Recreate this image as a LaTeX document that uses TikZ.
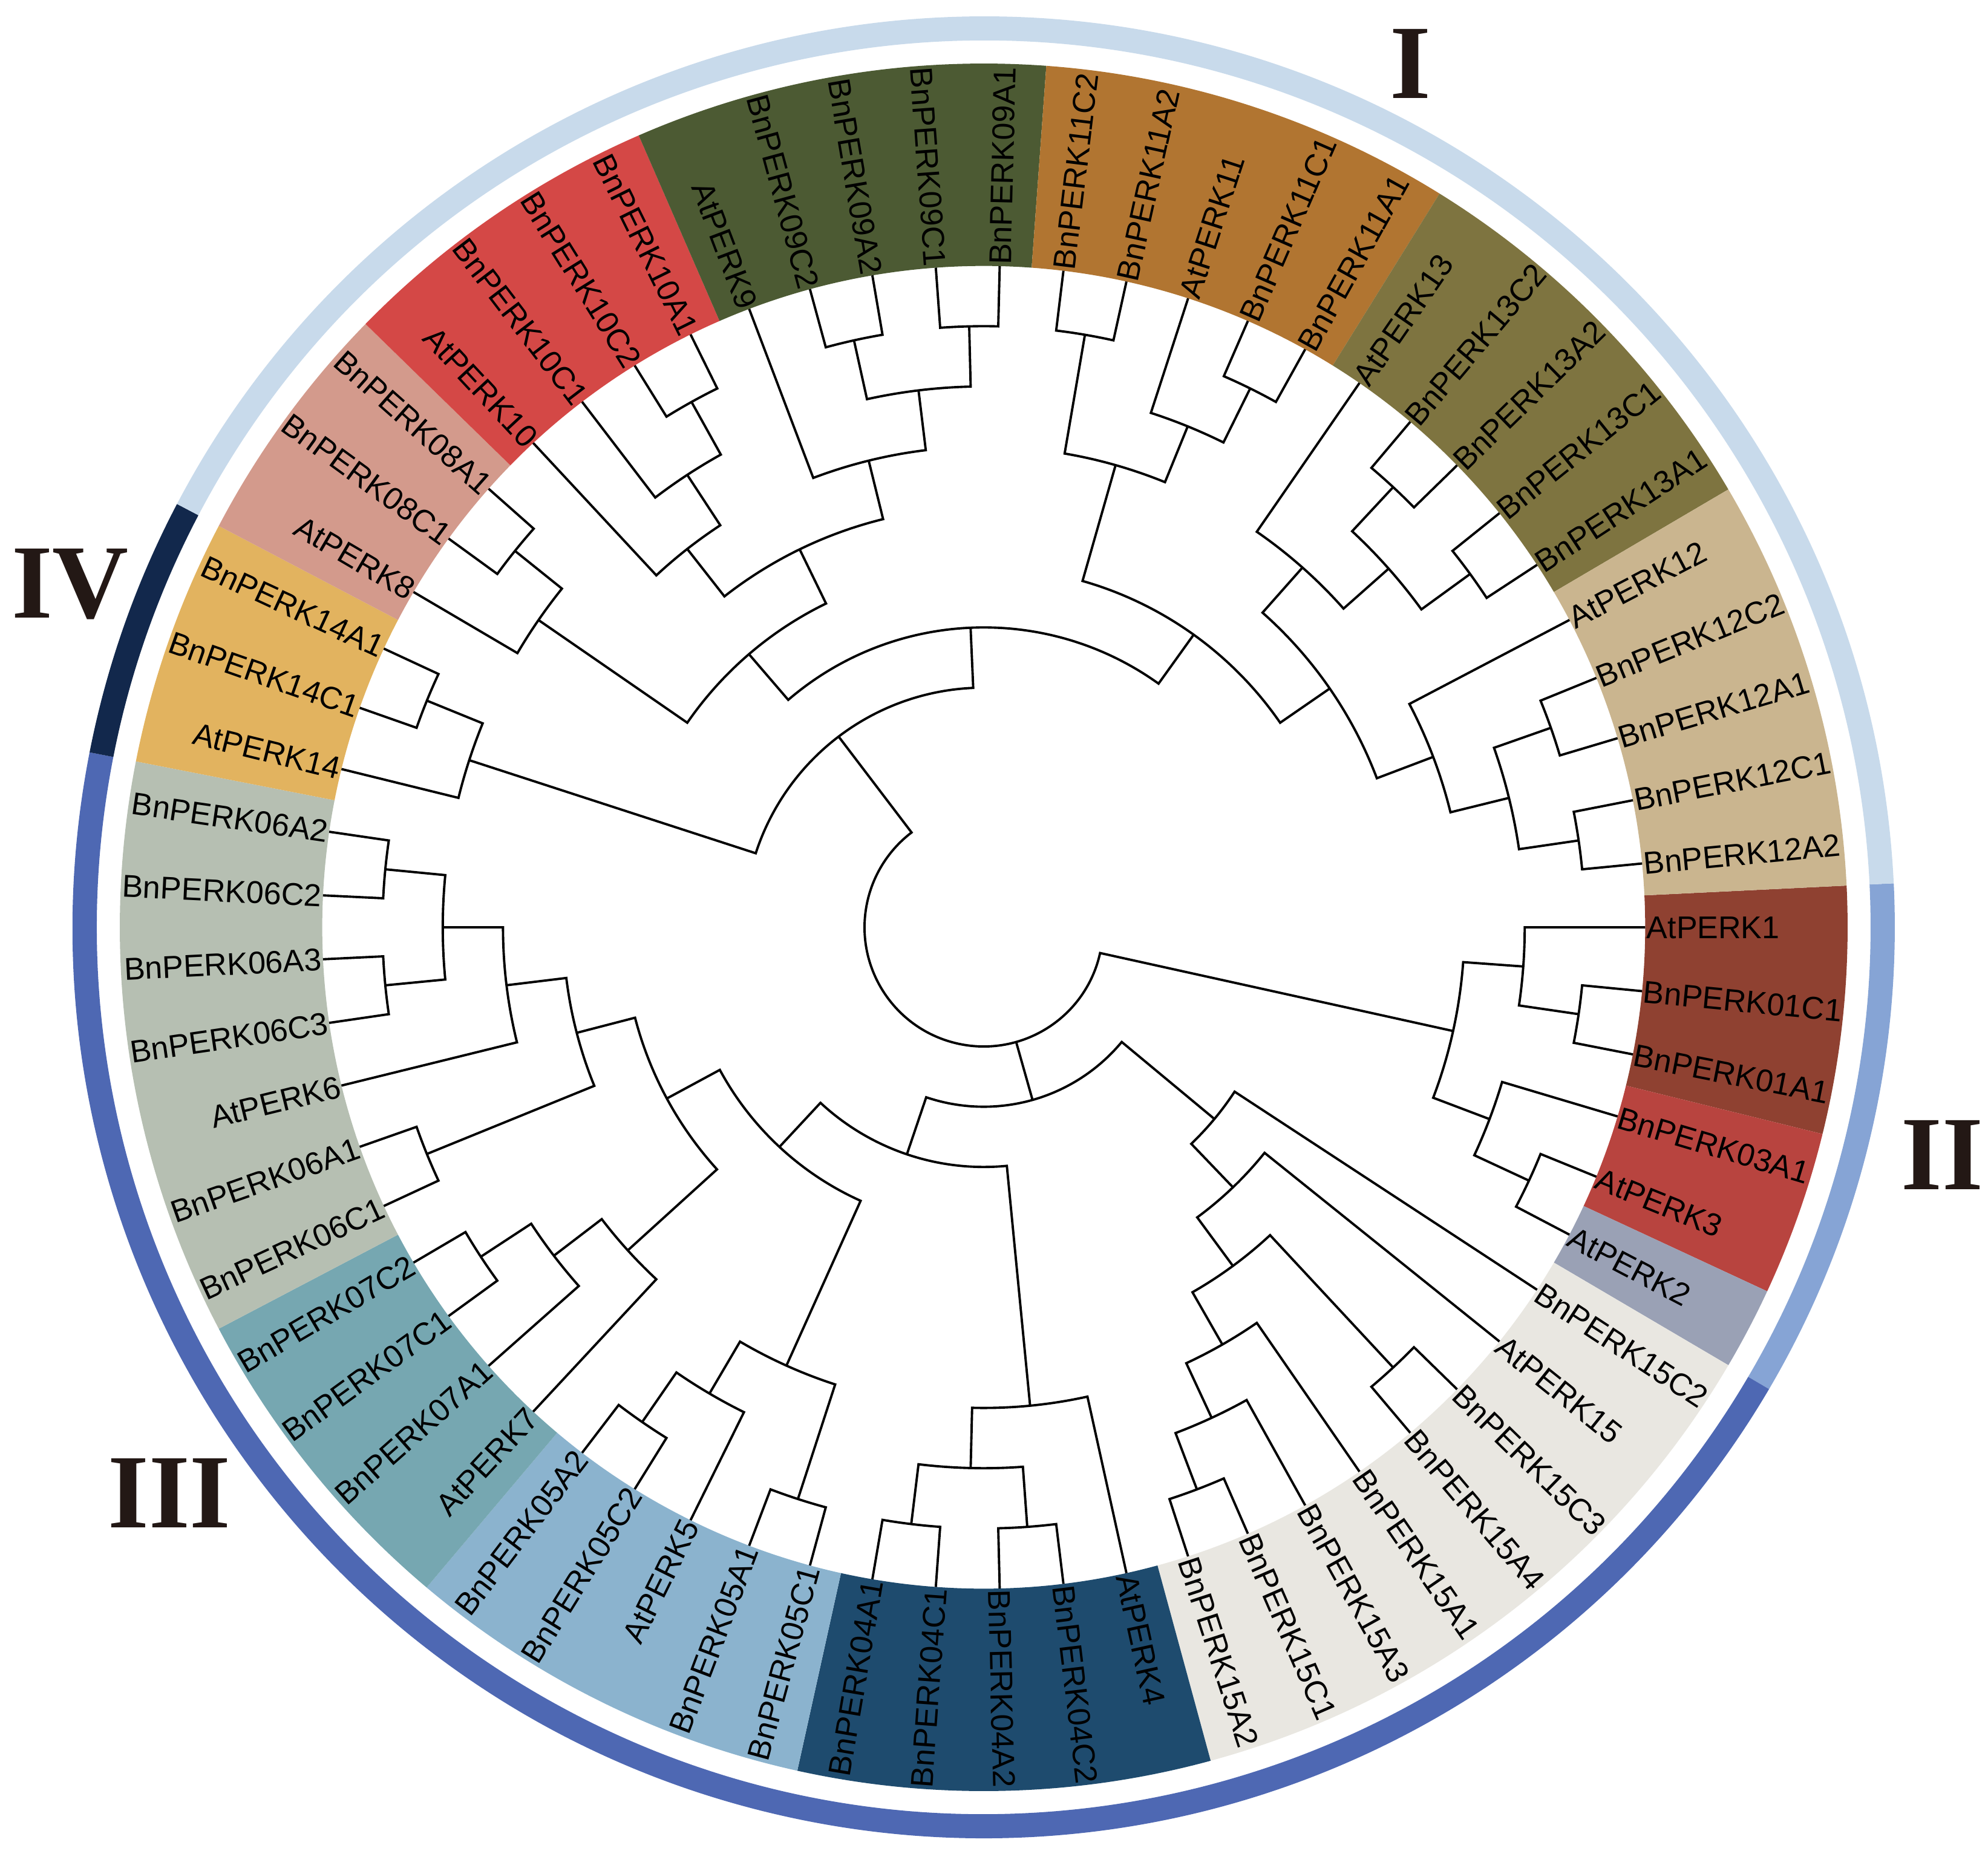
\documentclass[tikz,border=0pt]{standalone}
\usepackage{fontspec}
\setmainfont{Liberation Sans}
\newfontfamily\numfont{Liberation Serif}
\usepackage{xcolor}

%Band colours
\definecolor{bnd01}{HTML}{8F4131}
\definecolor{bnd03}{HTML}{B8443F}
\definecolor{bnd02}{HTML}{9AA1B5}
\definecolor{bnd15}{HTML}{E9E7E1}
\definecolor{bnd04}{HTML}{1E4B6E}
\definecolor{bnd05}{HTML}{8BB3CE}
\definecolor{bnd07}{HTML}{76A7B1}
\definecolor{bnd06}{HTML}{B6BFB2}
\definecolor{bnd14}{HTML}{E2B35F}
\definecolor{bnd08}{HTML}{D39A8C}
\definecolor{bnd10}{HTML}{D44846}
\definecolor{bnd09}{HTML}{4C5A33}
\definecolor{bnd11}{HTML}{B17531}
\definecolor{bnd13}{HTML}{7E7440}
\definecolor{bnd12}{HTML}{CAB58F}
%Group ring colours
\definecolor{grpI}{HTML}{C8DAEB}
\definecolor{grpII}{HTML}{86A4D5}
\definecolor{grpIII}{HTML}{4E68B3}
\definecolor{grpIV}{HTML}{12284C}
\definecolor{numcol}{HTML}{231815}

\tikzset{
  branch/.style={line width=1.1pt, black},
  leaflabel/.style={font=\fontsize{14.8}{16}\selectfont, inner sep=0.5pt, text height=10.6pt, text depth=0pt},
  numeral/.style={font=\numfont\bfseries\fontsize{49.6}{52}\selectfont, text=numcol, inner sep=0pt}
}

\def\dAng{5.538462}
\def\rZero{1.97}
\def\rStep{0.996}
\def\rLeaf{10.934}
\def\rBand{14.28}
\def\rRingIn{14.66}
\def\rRingOut{15.06}

% clade: name, level, child one, child two
\newcommand{\clade}[4]{%
  \pgfmathsetmacro\radN{\rZero+#2*\rStep}%
  \edef\angA{\csname pa@#3\endcsname}%
  \edef\angB{\csname pa@#4\endcsname}%
  \pgfmathsetmacro\angM{(\angA+\angB)/2}%
  \expandafter\xdef\csname pa@#1\endcsname{\angM}%
  \coordinate (#1) at (\angM:\radN);%
  \draw[branch] (#3) -- (\angA:\radN) arc[start angle=\angA, end angle=\angB, radius=\radN] -- (#4);%
}
% sector: colour, first leaf, last leaf, inner radius, outer radius
\newcommand{\sector}[5]{%
  \pgfmathsetmacro\bA{-(#2-0.5)*\dAng}%
  \pgfmathsetmacro\bB{-(#3+0.5)*\dAng}%
  \fill[#1] (\bA:#4) arc[start angle=\bA, end angle=\bB, radius=#4] -- (\bB:#5) arc[start angle=\bB, end angle=\bA, radius=#5] -- cycle;%
}

\begin{document}
\begin{tikzpicture}
  \useasboundingbox (-16.26,-15.31) rectangle (16.60,15.33);

  %Bands
  \sector{bnd01}{0}{2}{\rLeaf}{\rBand}
  \sector{bnd03}{3}{4}{\rLeaf}{\rBand}
  \sector{bnd02}{5}{5}{\rLeaf}{\rBand}
  \sector{bnd15}{6}{13}{\rLeaf}{\rBand}
  \sector{bnd04}{14}{18}{\rLeaf}{\rBand}
  \sector{bnd05}{19}{23}{\rLeaf}{\rBand}
  \sector{bnd07}{24}{27}{\rLeaf}{\rBand}
  \sector{bnd06}{28}{34}{\rLeaf}{\rBand}
  \sector{bnd14}{35}{37}{\rLeaf}{\rBand}
  \sector{bnd08}{38}{40}{\rLeaf}{\rBand}
  \sector{bnd10}{41}{44}{\rLeaf}{\rBand}
  \sector{bnd09}{45}{49}{\rLeaf}{\rBand}
  \sector{bnd11}{50}{54}{\rLeaf}{\rBand}
  \sector{bnd13}{55}{59}{\rLeaf}{\rBand}
  \sector{bnd12}{60}{64}{\rLeaf}{\rBand}

  %Group ring
  \sector{grpII}{0}{5}{\rRingIn}{\rRingOut}
  \sector{grpIII}{6}{34}{\rRingIn}{\rRingOut}
  \sector{grpIV}{35}{37}{\rRingIn}{\rRingOut}
  \sector{grpI}{38}{64}{\rRingIn}{\rRingOut}

  %Leaves
  \foreach \nm [count=\p from 0] in {AtPERK1,BnPERK01C1,BnPERK01A1,BnPERK03A1,AtPERK3,AtPERK2,
      BnPERK15C2,AtPERK15,BnPERK15C3,BnPERK15A4,BnPERK15A1,BnPERK15A3,BnPERK15C1,BnPERK15A2,
      AtPERK4,BnPERK04C2,BnPERK04A2,BnPERK04C1,BnPERK04A1,
      BnPERK05C1,BnPERK05A1,AtPERK5,BnPERK05C2,BnPERK05A2,
      AtPERK7,BnPERK07A1,BnPERK07C1,BnPERK07C2,
      BnPERK06C1,BnPERK06A1,AtPERK6,BnPERK06C3,BnPERK06A3,BnPERK06C2,BnPERK06A2,
      AtPERK14,BnPERK14C1,BnPERK14A1,AtPERK8,BnPERK08C1,BnPERK08A1,
      AtPERK10,BnPERK10C1,BnPERK10C2,BnPERK10A1,
      AtPERK9,BnPERK09C2,BnPERK09A2,BnPERK09C1,BnPERK09A1,
      BnPERK11C2,BnPERK11A2,AtPERK11,BnPERK11C1,BnPERK11A1,
      AtPERK13,BnPERK13C2,BnPERK13A2,BnPERK13C1,BnPERK13A1,
      AtPERK12,BnPERK12C2,BnPERK12A1,BnPERK12C1,BnPERK12A2}{
    \pgfmathsetmacro\angL{-\p*\dAng}
    \expandafter\xdef\csname pa@\nm\endcsname{\angL}
    \coordinate (\nm) at (\angL:\rLeaf);
    \pgfmathtruncatemacro\isR{cos(\angL)>0}
    \ifnum\isR=1
      \node[leaflabel, anchor=west, rotate=\angL] (t-\nm) at (\nm) {\nm};
    \else
      \pgfmathsetmacro\angT{\angL+180}
      \node[leaflabel, anchor=east, rotate=\angT] (t-\nm) at (\nm) {\nm};
    \fi
  }

  %Group II
  \clade{c0102}{8}{BnPERK01C1}{BnPERK01A1}
  \clade{c01}{7}{AtPERK1}{c0102}
  \clade{c0302}{8}{AtPERK3}{AtPERK2}
  \clade{c03}{7}{BnPERK03A1}{c0302}
  \clade{cII}{6}{c01}{c03}

  %Clade 15
  \clade{c15a}{8}{BnPERK15C1}{BnPERK15A2}
  \clade{c15b}{7}{BnPERK15A3}{c15a}
  \clade{c15c}{6}{BnPERK15A1}{c15b}
  \clade{c15d}{8}{BnPERK15C3}{BnPERK15A4}
  \clade{c15e}{5}{c15d}{c15c}
  \clade{c15f}{4}{AtPERK15}{c15e}
  \clade{c15}{3}{BnPERK15C2}{c15f}

  %Clade 4
  \clade{c04a}{8}{BnPERK04C2}{BnPERK04A2}
  \clade{c04b}{8}{BnPERK04C1}{BnPERK04A1}
  \clade{c04c}{7}{c04a}{c04b}
  \clade{c04}{6}{AtPERK4}{c04c}

  %Clade 5
  \clade{c05a}{8}{BnPERK05C1}{BnPERK05A1}
  \clade{c05b}{8}{BnPERK05C2}{BnPERK05A2}
  \clade{c05c}{7}{AtPERK5}{c05b}
  \clade{c05}{6}{c05a}{c05c}

  %Clade 7
  \clade{c07a}{8}{BnPERK07C1}{BnPERK07C2}
  \clade{c07b}{7}{BnPERK07A1}{c07a}
  \clade{c07}{6}{AtPERK7}{c07b}

  %Clade 6
  \clade{c06a}{8}{BnPERK06C1}{BnPERK06A1}
  \clade{c06b}{8}{BnPERK06C3}{BnPERK06A3}
  \clade{c06c}{8}{BnPERK06C2}{BnPERK06A2}
  \clade{c06d}{7}{c06b}{c06c}
  \clade{c06e}{6}{AtPERK6}{c06d}
  \clade{c06}{5}{c06a}{c06e}

  %Group III
  \clade{c67}{4}{c07}{c06}
  \clade{c567}{3}{c05}{c67}
  \clade{c4567}{2}{c04}{c567}
  \clade{cIII}{1}{c15}{c4567}

  %Group IV
  \clade{c14a}{8}{BnPERK14C1}{BnPERK14A1}
  \clade{c14}{7}{AtPERK14}{c14a}

  %Clades 8, 10, 9
  \clade{c08a}{8}{BnPERK08C1}{BnPERK08A1}
  \clade{c08}{7}{AtPERK8}{c08a}
  \clade{c10a}{8}{BnPERK10C2}{BnPERK10A1}
  \clade{c10b}{7}{BnPERK10C1}{c10a}
  \clade{c10}{6}{AtPERK10}{c10b}
  \clade{c09a}{8}{BnPERK09C2}{BnPERK09A2}
  \clade{c09b}{8}{BnPERK09C1}{BnPERK09A1}
  \clade{c09c}{7}{c09a}{c09b}
  \clade{c09}{6}{AtPERK9}{c09c}
  \clade{c0910}{5}{c10}{c09}
  \clade{c0810}{4}{c08}{c0910}

  %Clades 11, 13, 12
  \clade{c11a}{8}{BnPERK11C2}{BnPERK11A2}
  \clade{c11b}{8}{BnPERK11C1}{BnPERK11A1}
  \clade{c11c}{7}{AtPERK11}{c11b}
  \clade{c11}{6}{c11a}{c11c}
  \clade{c13a}{8}{BnPERK13C2}{BnPERK13A2}
  \clade{c13b}{8}{BnPERK13C1}{BnPERK13A1}
  \clade{c13c}{7}{c13a}{c13b}
  \clade{c13}{6}{AtPERK13}{c13c}
  \clade{c12a}{8}{BnPERK12C2}{BnPERK12A1}
  \clade{c12b}{8}{BnPERK12C1}{BnPERK12A2}
  \clade{c12c}{7}{c12a}{c12b}
  \clade{c12}{6}{AtPERK12}{c12c}
  \clade{c1213}{5}{c13}{c12}
  \clade{c1113}{4}{c11}{c1213}
  \clade{cI}{3}{c0810}{c1113}
  \clade{cIV}{2}{c14}{cI}

  %Root
  \edef\angA{\csname pa@cII\endcsname}
  \edef\angB{\csname pa@cIV\endcsname}
  \edef\angC{\csname pa@cIII\endcsname}
  \coordinate (root-ft) at (\angC:\rZero);
  \draw[branch] (cII) -- (\angA:\rZero) arc[start angle=\angA, end angle=\angB, radius=\rZero] -- (cIV);
  \draw[branch] (root-ft) -- (cIII);

  %Group numerals
  \node[numeral] (gI) at (7.05,14.28) {I};
  \node[numeral] (gII) at (15.84,-3.76) {II};
  \node[numeral] (gIII) at (-13.46,-9.35) {III};
  \node[numeral] (gIV) at (-15.10,5.67) {IV};
\end{tikzpicture}
\end{document}
